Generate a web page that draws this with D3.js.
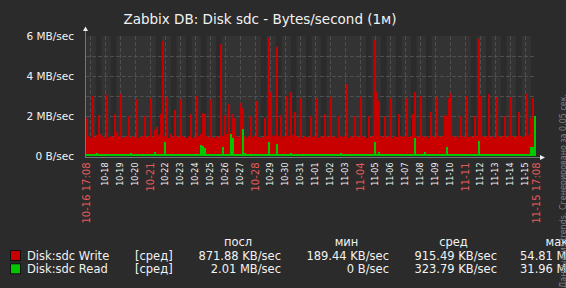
<!DOCTYPE html>
<html><head><meta charset="utf-8">
<script src="https://cdn.jsdelivr.net/npm/d3@7"></script>
<style>body{margin:0;background:#2b2b2b;} svg{display:block;font-family:"DejaVu Sans";}</style>
</head><body><svg id="c" width="566" height="288"></svg>
<script>
const title = "Zabbix DB: Disk sdc - Bytes/second (1м)";
const periodStart = Date.UTC(2019, 9, 16, 17, 8);
const periodEnd = Date.UTC(2019, 10, 15, 17, 8);
const yTicks = [0, 2, 4, 6];
const yTickLabels = ["0 B/sec", "2 MB/sec", "4 MB/sec", "6 MB/sec"];
const yGrid = [1, 2, 3, 4, 5];
const workDays = [1, 2, 3, 4, 5];
const workHours = [9, 18];
// MB/sec, one value per time slot (225 slots over the period)
const writeMB = [
1.9,1.0,0.92,3.0,0.95,1.05,2.05,1.1,1.02,0.9,3.05,0.95,1.0,0.96,2.1,
1.2,0.98,3.1,0.92,0.95,1.0,2.0,0.9,1.0,0.95,2.85,0.88,0.95,1.0,2.0,
0.95,1.02,2.9,0.93,1.3,1.45,1.05,2.1,5.75,1.0,2.95,0.92,1.1,0.95,2.3,
1.0,0.93,2.85,1.0,0.95,0.88,1.0,2.1,0.92,0.97,3.0,1.0,1.1,2.15,2.1,
1.0,0.93,2.85,0.95,0.88,1.0,0.95,5.6,1.0,2.05,1.1,2.6,1.15,2.1,1.9,
1.0,0.95,2.65,2.4,1.0,0.92,1.0,2.0,0.95,1.02,2.75,0.95,0.88,0.95,1.9,
1.0,5.9,3.2,1.0,1.05,5.45,1.0,2.05,0.93,1.0,3.0,1.0,3.2,1.05,2.2,
1.0,0.95,2.9,0.92,1.0,0.95,0.93,2.0,0.95,1.0,2.9,0.92,1.0,0.95,2.1,
1.0,0.93,2.95,0.95,1.0,0.9,2.0,1.0,0.95,1.0,3.6,0.92,1.0,0.95,2.0,
1.0,0.93,2.95,1.0,0.95,0.88,2.0,0.95,1.0,5.8,3.2,2.75,1.0,0.93,2.0,
0.95,1.0,2.9,0.92,1.0,0.95,2.1,1.0,0.93,1.0,2.9,0.95,1.0,2.1,3.2,
1.0,0.93,3.0,1.0,0.95,1.0,0.92,2.2,1.0,0.95,2.95,1.0,0.93,1.0,2.05,
2.0,2.9,3.15,1.0,0.95,1.0,0.92,2.0,1.0,0.95,3.0,0.93,1.0,0.95,2.0,
1.0,5.85,3.0,1.0,0.93,1.0,3.1,0.95,1.0,0.92,2.95,1.0,0.95,1.0,2.0,
0.95,1.0,2.95,1.0,0.93,1.0,2.2,1.0,0.95,1.0,3.1,1.05,1.9,2.9,0.85
];
const readMB = [
0.1,0.1,0.1,0.1,0.1,0.15,0.1,0.1,0.1,0.1,0.1,0.1,0.1,0.1,0.1,
0.1,0.1,0.1,0.1,0.1,0.1,0.1,0.15,0.1,0.1,0.1,0.1,0.1,0.1,0.1,
0.1,0.1,0.1,0.1,0.18,0.1,0.1,0.1,0.1,0.72,0.1,0.1,0.1,0.1,0.1,
0.1,0.1,0.1,0.1,0.1,0.1,0.1,0.1,0.1,0.1,0.1,0.1,0.55,0.5,0.38,
0.1,0.1,0.1,0.1,0.1,0.1,0.1,0.1,0.45,0.1,0.1,0.1,1.1,0.9,0.1,
0.1,0.1,0.1,1.35,0.15,0.1,0.1,0.1,0.1,0.1,0.1,0.1,0.1,0.1,0.1,
0.1,0.7,0.1,0.1,0.1,0.6,0.1,0.1,0.1,0.1,0.1,0.1,0.15,0.1,0.1,
0.1,0.1,0.1,0.1,0.1,0.1,0.1,0.1,0.1,0.1,0.1,0.1,0.1,0.1,0.1,
0.1,0.1,0.1,0.1,0.1,0.1,0.1,0.15,0.1,0.1,0.1,0.1,0.1,0.1,0.1,
0.1,0.1,0.1,0.1,0.1,0.1,0.1,0.1,0.1,0.72,0.1,0.18,0.1,0.1,0.1,
0.1,0.1,0.1,0.1,0.1,0.1,0.1,0.1,0.1,0.1,0.1,0.1,0.1,0.1,0.9,
0.1,0.1,0.1,0.1,0.22,0.1,0.1,0.1,0.1,0.1,0.1,0.1,0.1,0.1,0.1,
0.47,0.1,0.1,0.1,0.1,0.1,0.1,0.1,0.1,0.1,0.1,0.1,0.1,0.1,0.1,
0.1,0.75,0.1,0.1,0.1,0.1,0.1,0.1,0.1,0.1,0.1,0.1,0.1,0.1,0.1,
0.1,0.1,0.1,0.1,0.1,0.1,0.1,0.1,0.1,0.1,0.1,0.1,0.45,0.45,2.0
];
const seriesNames = ["Disk:sdc Write", "Disk:sdc Read"];
const seriesColors = ["#c80000", "#00c800"];
const legendFunc = ["[сред]", "[сред]"];
const legendHeaders = ["посл", "мин", "сред", "макс"];
const legendLast = ["871.88 KB/sec", "2.01 MB/sec"];
const legendMin = ["189.44 KB/sec", "0 B/sec"];
const legendAvg = ["915.49 KB/sec", "323.79 KB/sec"];
const legendMax = ["54.81 MB/sec", "31.96 MB/sec"];
const footer = "Данные из trends. Сгенерировано за 0.05 сек.";

const svg = d3.select("#c");
const L = 86, R = 536, T = 36, B = 156;
const x = d3.scaleUtc().domain([periodStart, periodEnd]).range([L, R]);
const y = d3.scaleLinear().domain([0, 6]).range([B, T]);
const fg = "#f2f2f2", hi = "#e45a5a";

svg.append("rect").attr("width", 566).attr("height", 288).attr("fill", "#2b2b2b");
// plot bg (non-work)
svg.append("rect").attr("x", L).attr("y", T).attr("width", R - L).attr("height", B - T).attr("fill", "#333333");
// work periods
const days = d3.utcDay.range(d3.utcDay.floor(new Date(periodStart)), new Date(periodEnd));
const bands = [];
days.forEach(d => {
  if (workDays.includes(d.getUTCDay())) {
    const a = Math.max(+d3.utcHour.offset(d, workHours[0]), periodStart);
    const b = Math.min(+d3.utcHour.offset(d, workHours[1]), periodEnd);
    if (b > a) bands.push([a, b]);
  }
});
svg.append("g").selectAll("rect").data(bands).join("rect")
  .attr("x", d => x(d[0])).attr("y", T).attr("width", d => x(d[1]) - x(d[0])).attr("height", B - T)
  .attr("fill", "#2b2b2b");

// grid
const gridG = svg.append("g").attr("stroke", "#4e4e4e").attr("stroke-width", 1);
gridG.selectAll("line.h").data(yGrid).join("line").attr("class", "h")
  .attr("x1", L).attr("x2", R).attr("y1", d => Math.round(y(d)) + 0.5).attr("y2", d => Math.round(y(d)) + 0.5)
  .attr("stroke-dasharray", "4,2");
const mids = d3.utcDay.range(d3.utcDay.ceil(new Date(periodStart)), new Date(periodEnd));
gridG.selectAll("line.v").data(mids).join("line").attr("class", "v")
  .attr("x1", d => Math.round(x(d)) + 0.5).attr("x2", d => Math.round(x(d)) + 0.5).attr("y1", T).attr("y2", B)
  .attr("stroke-dasharray", "4,2");

// bars
const n = writeMB.length;
const step = (periodEnd - periodStart) / n;
function drawSeries(vals, color) {
  svg.append("g").attr("shape-rendering", "crispEdges").selectAll("rect").data(vals).join("rect")
    .attr("x", (d, i) => x(periodStart + i * step))
    .attr("width", (d, i) => x(periodStart + (i + 1) * step) - x(periodStart + i * step))
    .attr("y", d => y(d)).attr("height", d => y(0) - y(d)).attr("fill", color);
}
drawSeries(writeMB, seriesColors[0]);
drawSeries(readMB, seriesColors[1]);

// axes
svg.append("line").attr("x1", L - 0.5).attr("x2", L - 0.5).attr("y1", 30).attr("y2", B + 2).attr("stroke", "#777");
svg.append("line").attr("x1", L - 1).attr("x2", 541).attr("y1", B + 1.5).attr("y2", B + 1.5).attr("stroke", "#777");
svg.append("path").attr("d", `M${L - 3},31 L${L + 2},31 L${L - 0.5},26.5 Z`).attr("fill", fg);
svg.append("path").attr("d", `M540,${B - 1} L540,${B + 4} L545,${B + 1.5} Z`).attr("fill", fg);

// title
svg.append("text").attr("x", 260).attr("y", 24).attr("text-anchor", "middle")
  .attr("font-size", 13.5).attr("fill", fg).text(title);

// y labels
svg.append("g").selectAll("text").data(yTicks).join("text")
  .attr("x", 74).attr("y", d => y(d)).attr("dy", "0.36em").attr("text-anchor", "end")
  .attr("font-size", 10.5).attr("fill", fg).text((d, i) => yTickLabels[i]);

// x labels
const fmtD = d3.utcFormat("%m-%d"), fmtFull = d3.utcFormat("%m-%d %H:%M");
const xl = [];
xl.push({ t: periodStart, s: fmtFull(new Date(periodStart)), main: true });
mids.forEach(d => {
  const px = x(d);
  if (px - L > 6 && R - px > 6) xl.push({ t: +d, s: fmtD(d), main: d.getUTCDay() === 1 });
});
xl.push({ t: periodEnd, s: fmtFull(new Date(periodEnd)), main: true });
svg.append("g").selectAll("text").data(xl).join("text")
  .attr("transform", d => `translate(${x(d.t)},162.5) rotate(-90)`)
  .attr("dy", "0.36em").attr("text-anchor", "end")
  .attr("font-size", d => d.main ? 10 : 8).attr("fill", d => d.main ? hi : fg).text(d => d.s);

// legend
const lg = svg.append("g").attr("fill", fg).attr("font-size", 11.5);
const hdrX = [238, 346.5, 453.5];
legendHeaders.forEach((h, i) => {
  if (i < 3) lg.append("text").attr("x", hdrX[i]).attr("y", 245.5).attr("text-anchor", "middle").text(h);
  else lg.append("text").attr("x", 545.5).attr("y", 245.5).text(h);
});
seriesNames.forEach((s, i) => {
  const by = 260 + i * 13.3;
  lg.append("rect").attr("x", 10.5).attr("y", by - 9.5).attr("width", 10).attr("height", 10)
    .attr("fill", seriesColors[i]).attr("stroke", "#111");
  lg.append("text").attr("x", 27).attr("y", by).text(s);
  lg.append("text").attr("x", 135).attr("y", by).text(legendFunc[i]);
  lg.append("text").attr("x", 281).attr("y", by).attr("text-anchor", "end").text(legendLast[i]);
  lg.append("text").attr("x", 389).attr("y", by).attr("text-anchor", "end").text(legendMin[i]);
  lg.append("text").attr("x", 497).attr("y", by).attr("text-anchor", "end").text(legendAvg[i]);
  lg.append("text").attr("x", 520).attr("y", by).text(legendMax[i]);
});

// footer vertical
svg.append("text").attr("transform", "translate(565.5,288) rotate(-90)")
  .attr("font-size", 8).attr("fill", "#808080").text(footer);
</script></body></html>
